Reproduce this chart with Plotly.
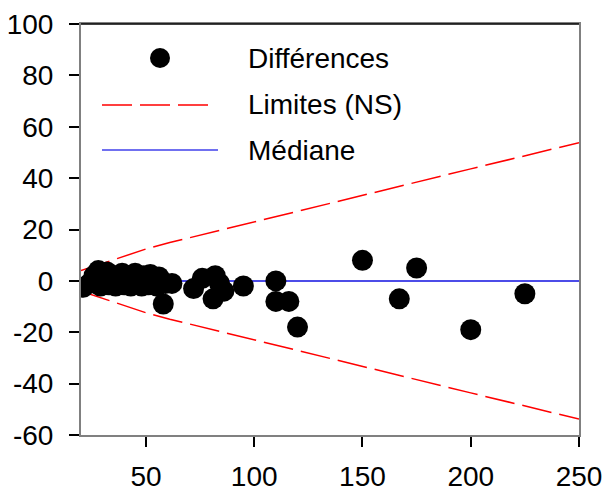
import plotly.graph_objects as go

# Data: differences (x = mean value, y = difference)
diff_x = [21, 24, 26, 28, 29, 30, 32, 33, 35, 36, 37, 39, 40, 42, 43, 45, 46, 48, 49,
          51, 52, 54, 55, 56, 58, 59, 62, 72, 76, 81, 82, 84, 86, 95,
          110, 110, 116, 120, 150, 167, 175, 200, 225]
diff_y = [-2.5, -1, 2, 4, -2, 1, 3.5, -1.5, 2, -2, 0, 3, -1.5, 1, -2, 3, 0, -2, 2,
          -1.5, 2.5, 0, -2, 1.5, -9, -1, -1, -3, 1, -7, 2, -1, -4, -2,
          0, -8, -8, -18, 8, -7, 5, -19, -5]

# Limits (NS)
lim_x = [20, 30, 40, 50, 61, 100, 150, 200, 250]
lim_upper = [4, 6.9, 9.6, 12.4, 14.9, 23, 33.3, 43.6, 53.8]
lim_lower = [-4, -6.9, -9.6, -12.4, -14.9, -23, -33.3, -43.6, -53.8]

# Median
med_x = [20, 250]
med_y = [0, 0]

x_ticks = [50, 100, 150, 200, 250]
y_ticks = [-60, -40, -20, 0, 20, 40, 60, 80, 100]

legend_labels = ["Différences", "Limites (NS)", "Médiane"]

RED = "#ff0000"
BLUE = "#1010e0"

fig = go.Figure()
fig.add_trace(go.Scatter(x=lim_x, y=lim_upper, mode="lines",
                         line=dict(color=RED, width=1.5, dash="30px,8px"),
                         showlegend=False, hoverinfo="skip"))
fig.add_trace(go.Scatter(x=lim_x, y=lim_lower, mode="lines",
                         line=dict(color=RED, width=1.5, dash="30px,8px"),
                         showlegend=False, hoverinfo="skip"))
fig.add_trace(go.Scatter(x=med_x, y=med_y, mode="lines",
                         line=dict(color=BLUE, width=1.5),
                         showlegend=False, hoverinfo="skip"))
fig.add_trace(go.Scatter(x=diff_x, y=diff_y, mode="markers",
                         marker=dict(color="black", size=21,
                                     line=dict(width=0)),
                         showlegend=False))

W, H = 606, 494
L, R, T, B = 81, 579, 24, 435
def px(xp):
    return (xp - L) / (R - L)
def py(yp):
    return (B - yp) / (B - T)

shapes = [
    dict(type="line", xref="paper", yref="paper", x0=0, x1=1, y0=1, y1=1,
         line=dict(color="black", width=1.5)),
    dict(type="circle", xref="paper", yref="paper",
         x0=px(150), x1=px(170), y0=py(68), y1=py(48),
         fillcolor="black", line=dict(width=0)),
    dict(type="line", xref="paper", yref="paper", x0=px(102), x1=px(210),
         y0=py(105), y1=py(105), line=dict(color=RED, width=1.5, dash="30px,8px")),
    dict(type="line", xref="paper", yref="paper", x0=px(102), x1=px(218),
         y0=py(150), y1=py(150), line=dict(color="#7070f0", width=2)),
]
annotations = []
for lab, yy in zip(legend_labels, [58, 105, 150]):
    annotations.append(dict(text=lab, xref="paper", yref="paper", x=px(246), y=py(yy),
                            xanchor="left", yanchor="middle", showarrow=False,
                            font=dict(family="Liberation Sans, Arial", size=28, color="black")))

tickfont = dict(family="Liberation Sans, Arial", size=28, color="black")

fig.update_layout(
    width=W, height=H,
    margin=dict(l=L, r=W - R, t=T, b=H - B),
    plot_bgcolor="white", paper_bgcolor="white",
    showlegend=False,
    shapes=shapes, annotations=annotations,
    xaxis=dict(range=[20, 250], tickvals=x_ticks, ticktext=[str(v) for v in x_ticks],
               showgrid=False, zeroline=False, showline=True, linecolor="#808080", linewidth=2,
               mirror=True, ticks="outside", ticklen=10, tickwidth=2, tickcolor="black",
               tickfont=tickfont, automargin=False, ticklabelstandoff=5),
    yaxis=dict(range=[-60, 100], tickvals=y_ticks, ticktext=[str(v) for v in y_ticks],
               showgrid=False, zeroline=False, showline=True, linecolor="#808080", linewidth=2,
               mirror=True, ticks="outside", ticklen=10, tickwidth=2, tickcolor="black",
               tickfont=tickfont, automargin=False, ticklabelstandoff=10),
)

fig.write_html("out.html", config={"displayModeBar": False},
               post_script="document.body.style.margin='0';document.body.style.overflow='hidden';")
